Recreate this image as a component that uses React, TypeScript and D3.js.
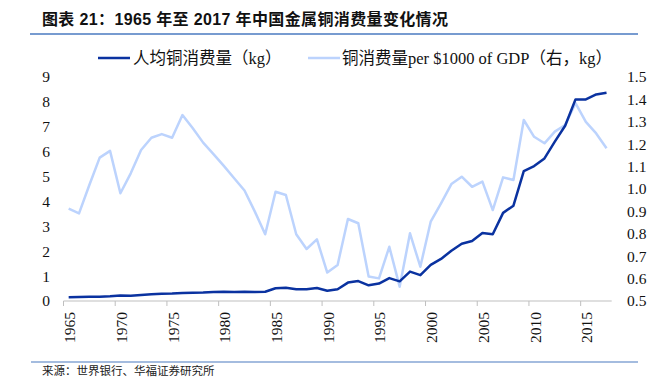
import React from "react";
import * as d3 from "d3";

const years: number[] = d3.range(1965, 2018);
const perCapita: number[] = [
  0.15, 0.16, 0.17, 0.17, 0.19, 0.22, 0.21, 0.24, 0.27, 0.29,
  0.30, 0.32, 0.33, 0.34, 0.36, 0.37, 0.36, 0.37, 0.36, 0.37,
  0.51, 0.53, 0.47, 0.47, 0.52, 0.41, 0.47, 0.74, 0.80, 0.63,
  0.70, 0.92, 0.79, 1.18, 1.04, 1.45, 1.69, 2.02, 2.30, 2.41,
  2.73, 2.68, 3.54, 3.83, 5.22, 5.42, 5.73, 6.40, 7.04, 8.10,
  8.10, 8.30, 8.37,
];
const perGdp: number[] = [
  0.912, 0.891, 1.018, 1.140, 1.170, 0.981, 1.070, 1.174, 1.229, 1.245,
  1.229, 1.330, 1.271, 1.207, 1.156, 1.103, 1.048, 0.993, 0.899, 0.798,
  0.988, 0.973, 0.798, 0.732, 0.775, 0.627, 0.661, 0.866, 0.847, 0.609,
  0.601, 0.742, 0.564, 0.802, 0.653, 0.854, 0.936, 1.022, 1.055, 1.010,
  1.033, 0.906, 1.052, 1.040, 1.308, 1.233, 1.204, 1.256, 1.286, 1.383,
  1.300, 1.248, 1.182,
];
const leftTicks: number[] = [0, 1, 2, 3, 4, 5, 6, 7, 8, 9];
const rightTicks: number[] = [0.5, 0.6, 0.7, 0.8, 0.9, 1.0, 1.1, 1.2, 1.3, 1.4, 1.5];
const labelYears: number[] = [1965, 1970, 1975, 1980, 1985, 1990, 1995, 2000, 2005, 2010, 2015];

const title = "图表 21：1965 年至 2017 年中国金属铜消费量变化情况";
const legend1 = "人均铜消费量（kg）";
const legend2 = "铜消费量per $1000 of GDP（右，kg）";
const source = "来源：世界银行、华福证券研究所";

const DARK = "#0a32a0";
const LIGHT = "#bcd3fd";
const SERIF = "'Liberation Serif', 'Times New Roman', 'Noto Sans CJK SC', serif";

export default function App() {
  const W = 664, H = 391;
  const x0 = 63.5, x1 = 611.7, yTop = 77, yBot = 301;
  const x = d3.scaleBand<number>().domain(years).range([x0, x1]);
  const yL = d3.scaleLinear().domain([0, 9]).range([yBot, yTop]);
  const yR = d3.scaleLinear().domain([0.5, 1.5]).range([yBot, yTop]);
  const cx = (yr: number) => (x(yr) as number) + x.bandwidth() / 2;

  const lineL = d3.line<number>().x((_, i) => cx(years[i])).y((d) => yL(d));
  const lineR = d3.line<number>().x((_, i) => cx(years[i])).y((d) => yR(d));

  return (
    <svg width={W} height={H} style={{ position: "absolute", left: 0, top: 0, background: "#fff" }}>
      <text
        x={42}
        y={24.5}
        textLength={406}
        lengthAdjust="spacing"
        fontFamily="'Liberation Sans', 'Noto Sans CJK SC', sans-serif"
        fontWeight="bold"
        fontSize={16}
        fill="#111"
      >
        {title}
      </text>
      <line x1={30} x2={638} y1={34} y2={34} stroke="#4a7ac0" strokeWidth={1.5} />

      {/* legend */}
      <line x1={98} x2={130} y1={58} y2={58} stroke={DARK} strokeWidth={2.5} />
      <text x={133} y={63.5} fontFamily={SERIF} fontSize={16.5} fill="#111">{legend1}</text>
      <line x1={308} x2={340} y1={58} y2={58} stroke={LIGHT} strokeWidth={2.5} />
      <text x={342} y={63.5} fontFamily={SERIF} fontSize={16.5} fill="#111">{legend2}</text>

      {/* left axis labels */}
      {leftTicks.map((t) => (
        <text key={"l" + t} x={50} y={yL(t)} dy="0.35em" textAnchor="end" fontFamily={SERIF} fontSize={15.5} fill="#111">
          {t}
        </text>
      ))}
      {/* right axis labels */}
      {rightTicks.map((t) => (
        <text key={"r" + t} x={627} y={yR(t)} dy="0.35em" textAnchor="start" fontFamily={SERIF} fontSize={15.5} fill="#111">
          {t.toFixed(1)}
        </text>
      ))}

      {/* x axis */}
      <line x1={x0} x2={x1} y1={yBot} y2={yBot} stroke="#bfbfbf" strokeWidth={1} />
      {labelYears.map((yr) => (
        <line key={"t" + yr} x1={x(yr) as number} x2={x(yr) as number} y1={yBot} y2={yBot + 5} stroke="#bfbfbf" strokeWidth={1} />
      ))}
      {labelYears.map((yr) => (
        <text
          key={"x" + yr}
          transform={`translate(${cx(yr) + 1},${yBot + 11}) rotate(-90)`}
          textAnchor="end"
          dy="0.35em"
          fontFamily={SERIF}
          fontSize={15.5}
          fill="#111"
        >
          {yr}
        </text>
      ))}

      {/* series */}
      <path d={lineR(perGdp) as string} fill="none" stroke={LIGHT} strokeWidth={2.5} strokeLinejoin="round" />
      <path d={lineL(perCapita) as string} fill="none" stroke={DARK} strokeWidth={2.5} strokeLinejoin="round" />

      {/* footer */}
      <line x1={31} x2={638} y1={362} y2={362} stroke="#4a7ac0" strokeWidth={1.2} />
      <text x={42} y={375} fontFamily="'Noto Sans CJK SC', sans-serif" fontSize={11.5} fill="#222">
        {source}
      </text>
    </svg>
  );
}
